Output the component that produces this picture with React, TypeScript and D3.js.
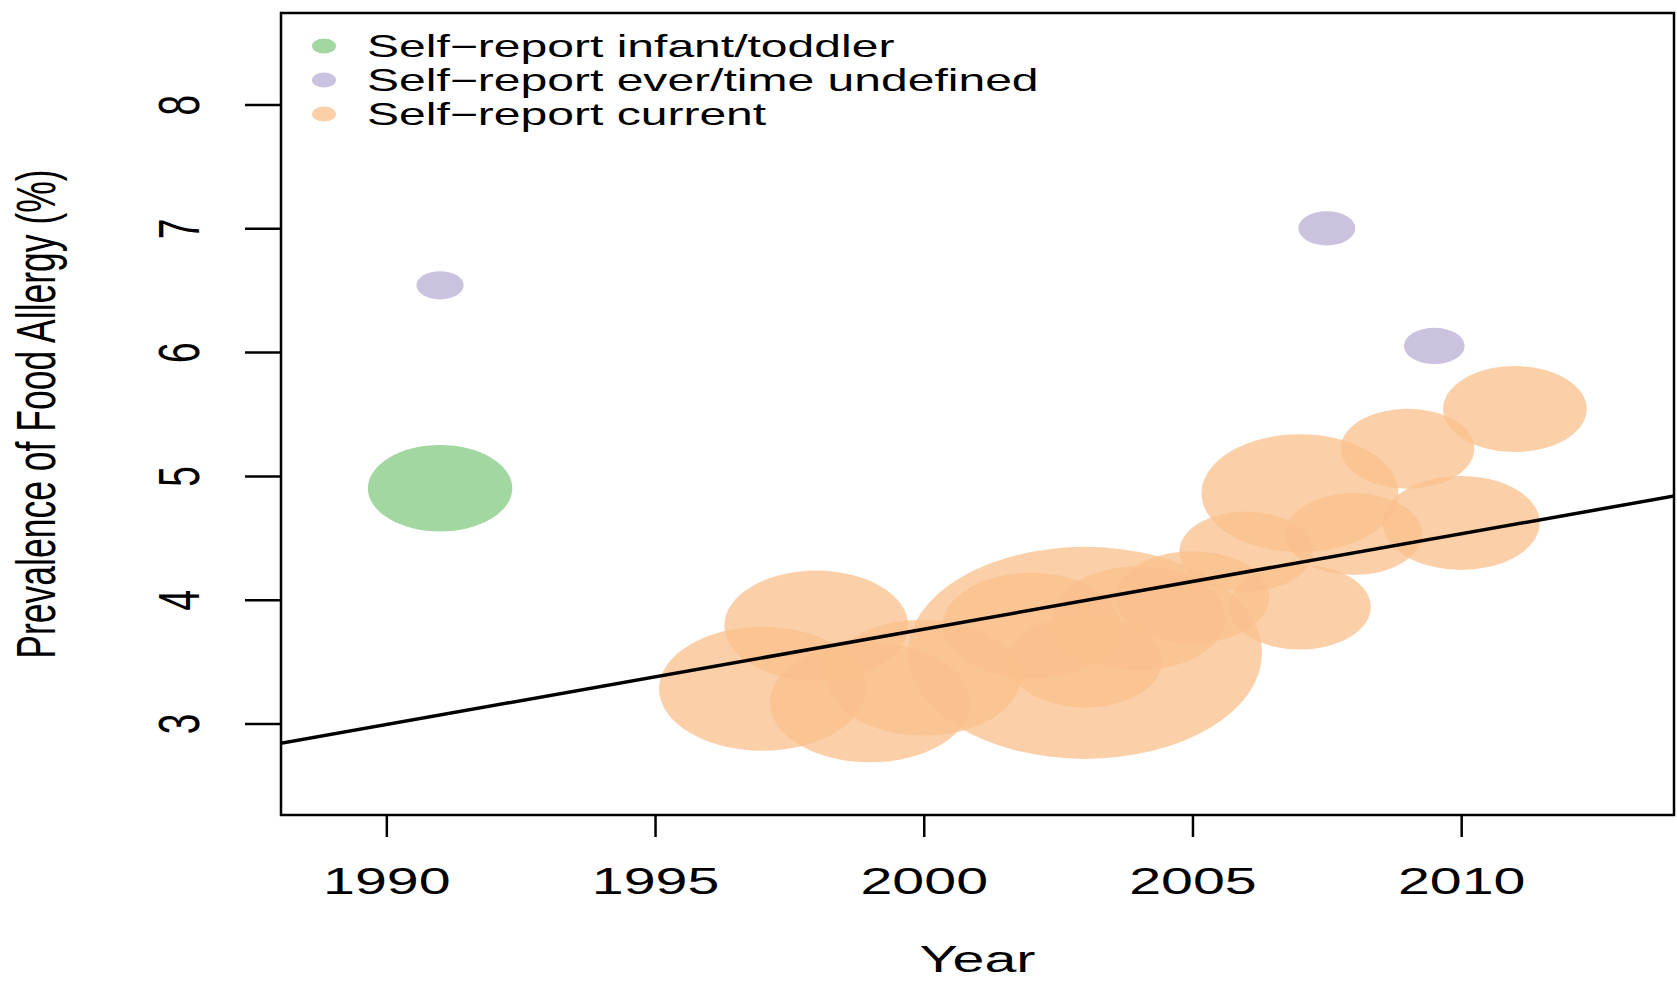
import { useEffect, useRef } from 'react';
import * as d3 from 'd3';

// Self-report current
const currentYears = [1997, 1998, 1999, 2000, 2002, 2003, 2003, 2004, 2005, 2006, 2007, 2007, 2008, 2009, 2010, 2011];
const currentPrev = [3.28, 3.79, 3.17, 3.37, 3.79, 3.57, 3.5, 3.85, 4.02, 4.39, 4.86, 3.94, 4.53, 5.22, 4.62, 5.54];
const currentSize = [38.4, 30.3, 36, 33.6, 28.1, 112.4, 21.2, 27, 21.2, 16, 34.8, 18, 16.8, 16, 22.1, 18.5];
// Self-report ever/time undefined
const everYears = [1991, 2007.5, 2009.5];
const everPrev = [6.54, 7.0, 6.05];
const everSize = [2.0, 2.9, 3.3];
// Self-report infant/toddler
const infantYears = [1991];
const infantPrev = [4.9];
const infantSize = [18.7];
// fitted trend line (value at both ends)
const trendYears = [1988, 2014];
const trendPrev = [2.837, 4.84];

const xTicks = [1990, 1995, 2000, 2005, 2010];
const yTicks = [3, 4, 5, 6, 7, 8];
const legendLabels = ['Self\u2212report infant/toddler', 'Self\u2212report ever/time undefined', 'Self\u2212report current'];
const colors = ['#a2d7a1', '#cbc2e0', '#fac08c'];
const alphas = [1, 1, 0.75];

const W = 1677;
const H = 981;
const SX = 1.55; // the figure is stretched horizontally
const ASPECT = 1.67;
const FONT = '"Liberation Sans", Arial, Helvetica, sans-serif';

const App = () => {
    const ref = useRef<SVGSVGElement>(null);

    useEffect(() => {
        const svg = d3.select(ref.current);
        svg.selectAll('*').remove();
        const left = 281, right = 1674, top = 13, bottom = 815;

        const x = d3.scaleLinear().domain([1988.04, 2013.96]).range([left, right]);
        const y = d3.scaleLinear().domain([2.26, 8.74]).range([bottom, top]);
        const r = d3.scaleSqrt().domain([0, 100]).range([0, 100]);

        svg.append('defs').append('clipPath').attr('id', 'plotclip')
            .append('rect')
            .attr('x', left).attr('y', top)
            .attr('width', right - left).attr('height', bottom - top);

        const plot = svg.append('g').attr('clip-path', 'url(#plotclip)');

        const series = [
            { years: infantYears, prev: infantPrev, size: infantSize },
            { years: everYears, prev: everPrev, size: everSize },
            { years: currentYears, prev: currentPrev, size: currentSize }
        ];
        series.forEach((s, k) => {
            const pts = s.years.map((yr, i) => ({ yr, v: s.prev[i], n: s.size[i] }));
            plot.selectAll('.b' + k)
                .data(pts)
                .enter().append('ellipse')
                .attr('class', 'b' + k)
                .attr('cx', (d: any) => x(d.yr))
                .attr('cy', (d: any) => y(d.v))
                .attr('rx', (d: any) => r(d.n) * ASPECT)
                .attr('ry', (d: any) => r(d.n))
                .attr('fill', colors[k])
                .attr('fill-opacity', alphas[k]);
        });

        const line = d3.line<number>()
            .x((d, i) => x(trendYears[i]))
            .y(d => y(d));
        plot.append('path')
            .attr('d', line(trendPrev))
            .attr('fill', 'none')
            .attr('stroke', '#000')
            .attr('stroke-width', 3.5);

        // axes
        const xAxis = svg.append('g')
            .attr('transform', 'translate(0,' + bottom + ')')
            .call(d3.axisBottom(x).tickValues(xTicks).tickSize(22).tickFormat(d3.format('d')));
        xAxis.select('.domain').remove();
        xAxis.selectAll('line').attr('stroke', '#000').attr('stroke-width', 2.5);
        xAxis.selectAll('text')
            .attr('y', null).attr('dy', null)
            .attr('transform', 'translate(0,79) scale(' + SX + ',1)')
            .attr('font-size', 37).attr('font-family', FONT).attr('fill', '#000');

        const yAxis = svg.append('g')
            .attr('transform', 'translate(' + left + ',0)')
            .call(d3.axisLeft(y).tickValues(yTicks).tickSize(36).tickFormat(d3.format('d')));
        yAxis.select('.domain').remove();
        yAxis.selectAll('line').attr('stroke', '#000').attr('stroke-width', 2.5);
        yAxis.selectAll('text')
            .attr('x', null).attr('dy', null)
            .attr('text-anchor', 'middle')
            .attr('transform', 'translate(-82,0) scale(' + SX + ',1) rotate(-90)')
            .attr('font-size', 37).attr('font-family', FONT).attr('fill', '#000');

        svg.append('rect')
            .attr('x', left).attr('y', top)
            .attr('width', right - left).attr('height', bottom - top)
            .attr('fill', 'none').attr('stroke', '#000').attr('stroke-width', 2.5);

        svg.append('text')
            .attr('transform', 'translate(' + (left + right) / 2 + ',972) scale(' + SX + ',1)')
            .attr('text-anchor', 'middle')
            .attr('font-size', 37).attr('font-family', FONT)
            .text('Year');

        svg.append('text')
            .attr('transform', 'translate(55,' + (top + bottom) / 2 + ') scale(' + SX + ',1) rotate(-90)')
            .attr('text-anchor', 'middle')
            .attr('font-size', 35.5).attr('font-family', FONT)
            .text('Prevalence of Food Allergy (%)');

        // legend
        const legendG = svg.selectAll('.legend')
            .data(legendLabels)
            .enter().append('g')
            .attr('class', 'legend')
            .attr('transform', (d: any, i: number) => 'translate(324,' + (46 + i * 34) + ')');
        legendG.append('ellipse')
            .attr('rx', 12).attr('ry', 7.5)
            .attr('fill', (d: any, i: number) => colors[i])
            .attr('fill-opacity', (d: any, i: number) => alphas[i]);
        legendG.append('text')
            .attr('transform', 'translate(43,11) scale(' + SX + ',1)')
            .attr('font-size', 31).attr('font-family', FONT)
            .text((d: any) => d);
    }, []);

    return (
        <svg ref={ref} width={W} height={H}
            style={{ position: 'absolute', left: 0, top: 0, background: '#fff' }} />
    );
};

export default App;
